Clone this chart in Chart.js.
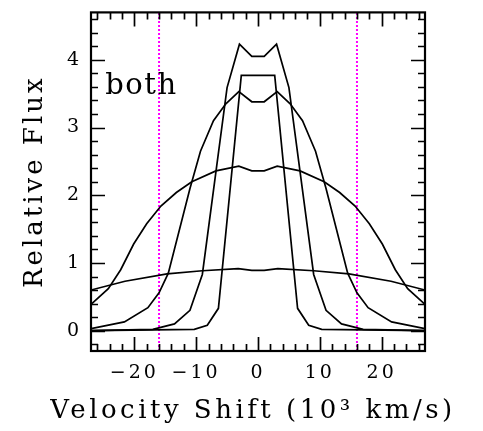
<!DOCTYPE html>
<html>
<head>
<meta charset="utf-8">
<title>Relative Flux</title>
<script src="https://cdn.jsdelivr.net/npm/chart.js@4.4.0/dist/chart.umd.min.js"></script>
<style>
  body { margin: 0; background: #fff; }
</style>
</head>
<body>
<canvas id="chart" width="483" height="431"></canvas>
<script>
// line profiles: velocity (10^3 km/s) and relative flux
var velA  = [-27, -10.3, -8.2, -6.4, -2.7, 2.7, 6.4, 8.2, 10.3, 27];
var fluxA = [0.0, 0.02, 0.08, 0.33, 3.77, 3.77, 0.33, 0.08, 0.02, 0.0];

var velB  = [-27, -17, -13.5, -11, -9, -5, -3, -1, 1, 3, 5, 9, 11, 13.5, 17, 27];
var fluxB = [0.0, 0.02, 0.1, 0.3, 0.83, 3.59, 4.23, 4.05, 4.05, 4.23, 3.59, 0.83, 0.3, 0.1, 0.02, 0.0];

var velC  = [-27, -21.6, -17.8, -16, -14.5, -11, -9.3, -7.2, -5.2, -3.1, -1, 1, 3.1, 5.2, 7.2, 9.3, 11, 14.5, 16, 17.8, 21.6, 27];
var fluxC = [0.03, 0.13, 0.34, 0.56, 0.85, 2.1, 2.65, 3.1, 3.35, 3.53, 3.38, 3.38, 3.53, 3.35, 3.1, 2.65, 2.1, 0.85, 0.56, 0.34, 0.13, 0.03];

var velD  = [-27, -24.2, -22.2, -20.1, -18, -15.7, -13.2, -10.7, -6.8, -3.1, -1, 1, 3.1, 6.8, 10.7, 13.2, 15.7, 18, 20.1, 22.2, 24.2, 27];
var fluxD = [0.39, 0.62, 0.9, 1.28, 1.58, 1.84, 2.04, 2.2, 2.36, 2.43, 2.36, 2.36, 2.43, 2.36, 2.2, 2.04, 1.84, 1.58, 1.28, 0.9, 0.62, 0.39];

var velE  = [-27, -21.5, -14.7, -9, -3.2, -1, 1, 3.2, 9, 14.7, 21.5, 27];
var fluxE = [0.6, 0.73, 0.84, 0.885, 0.915, 0.89, 0.89, 0.915, 0.885, 0.84, 0.73, 0.6];

// dotted markers
var markerVel = [-16, 16];

var xTicks = [-20, -10, 0, 10, 20];
var yTicks = [0, 1, 2, 3, 4];
var xMin = -27, xMax = 27, yMin = -0.3, yMax = 4.7;

var FONT = 'DejaVu Serif';
var xTitle = 'Velocity Shift (10\u00b3 km/s)';

function pts(v, f) {
    return v.map(function (x, i) { return {x: x, y: f[i]}; });
}

var profiles = [[velA, fluxA], [velB, fluxB], [velC, fluxC], [velD, fluxD], [velE, fluxE]];
var datasets = profiles.map(function (p) {
    return {
        data: pts(p[0], p[1]),
        borderColor: '#000',
        borderWidth: 1.7,
        pointRadius: 0,
        showLine: true,
        tension: 0
    };
});
markerVel.forEach(function (v) {
    datasets.push({
        data: [{x: v, y: yMin}, {x: v, y: yMax}],
        borderColor: '#ff00ff',
        borderWidth: 2,
        borderDash: [2, 2],
        pointRadius: 0,
        showLine: true
    });
});

// wide lettering for all chart text
var spacingPlugin = {
    id: 'spacing',
    beforeDraw: function (chart) { chart.ctx.letterSpacing = '3px'; }
};

// frame, inward ticks on all four sides, the label and the x title
// (x title is drawn here since it is wider than the plot box)
var framePlugin = {
    id: 'frame',
    afterDatasetsDraw: function (chart) {
        var c = chart.ctx, a = chart.chartArea;
        var xs = chart.scales.x, ys = chart.scales.y;
        c.save();
        c.strokeStyle = '#000';
        c.lineWidth = 1.7;
        c.beginPath();
        for (var v = -26; v <= 26; v += 2) {
            var px = Math.round(xs.getPixelForValue(v)) + 0.5;
            var len = (v % 10 === 0) ? 14 : 7;
            c.moveTo(px, a.bottom); c.lineTo(px, a.bottom - len);
            c.moveTo(px, a.top); c.lineTo(px, a.top + len);
        }
        for (var k = -1; k <= 23; k++) {
            var val = k * 0.2;
            var py = Math.round(ys.getPixelForValue(val)) + 0.5;
            var l = (k % 5 === 0) ? 14 : 7;
            c.moveTo(a.left, py); c.lineTo(a.left + l, py);
            c.moveTo(a.right, py); c.lineTo(a.right - l, py);
        }
        c.stroke();
        c.lineWidth = 2.2;
        c.strokeRect(a.left, a.top, a.right - a.left, a.bottom - a.top);

        c.fillStyle = '#000';
        c.letterSpacing = '1.5px';
        c.font = '29px "' + FONT + '"';
        c.textAlign = 'left';
        c.textBaseline = 'alphabetic';
        c.fillText('both', xs.getPixelForValue(-24.7), ys.getPixelForValue(3.5));

        c.letterSpacing = '3.5px';
        c.font = '26px "' + FONT + '"';
        c.textAlign = 'center';
        c.textBaseline = 'middle';
        c.fillText(xTitle, (a.left + a.right) / 2 - 5, 411);
        c.restore();
    }
};

new Chart(document.getElementById('chart').getContext('2d'), {
    type: 'scatter',
    data: {datasets: datasets},
    options: {
        responsive: false,
        animation: false,
        layout: {padding: {top: 5, right: 58, left: 0, bottom: 0}},
        plugins: {legend: {display: false}, tooltip: {enabled: false}},
        scales: {
            x: {
                type: 'linear',
                min: xMin, max: xMax,
                grid: {display: false},
                border: {display: false},
                afterBuildTicks: function (s) { s.ticks = xTicks.map(function (v) { return {value: v}; }); },
                afterFit: function (s) { s.height = 80; },
                ticks: {
                    color: '#000',
                    padding: 3,
                    font: {family: FONT, size: 19},
                    callback: function (v) { return String(v).replace('-', '\u2212'); }
                }
            },
            y: {
                type: 'linear',
                min: yMin, max: yMax,
                grid: {display: false},
                border: {display: false},
                afterBuildTicks: function (s) { s.ticks = yTicks.map(function (v) { return {value: v}; }); },
                afterFit: function (s) { s.width = 91; },
                ticks: {
                    color: '#000',
                    padding: 1,
                    font: {family: FONT, size: 19}
                },
                title: {
                    display: true,
                    text: 'Relative Flux',
                    color: '#000',
                    font: {family: FONT, size: 26},
                    padding: {top: 20, bottom: 0}
                }
            }
        }
    },
    plugins: [spacingPlugin, framePlugin]
});
</script>
</body>
</html>
